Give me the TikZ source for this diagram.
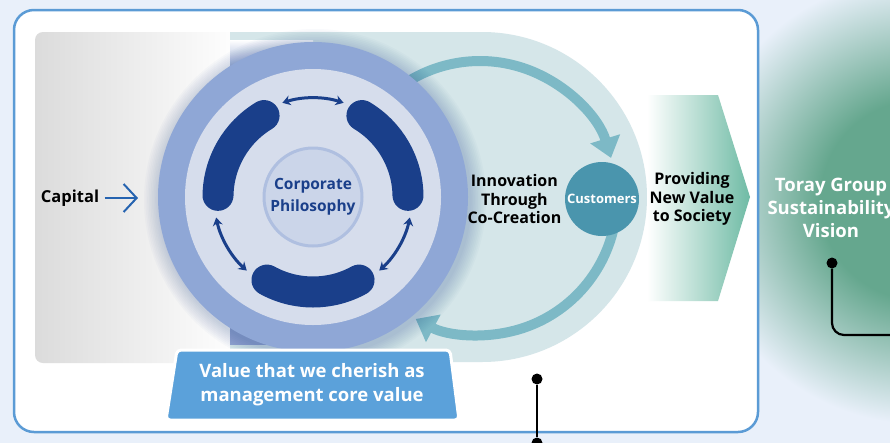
\documentclass[tikz,border=0pt]{standalone}
\usepackage{fontspec}
\setmainfont{Open Sans}
\usetikzlibrary{arrows.meta,positioning}

\definecolor{bgblue}{HTML}{E9F0FA}
\definecolor{framecol}{HTML}{5B9BD5}
\definecolor{ringblue}{HTML}{8FA7D6}
\definecolor{diskblue}{HTML}{D6DDEC}
\definecolor{navy}{HTML}{1A3F8A}
\definecolor{tealbg}{HTML}{D5E6E9}
\definecolor{tealarrow}{HTML}{7DB9C6}
\definecolor{custteal}{HTML}{4A95AD}
\definecolor{chevgreen}{HTML}{6FBBA5}
\definecolor{visgreen}{HTML}{65A78E}
\definecolor{valueblue}{HTML}{5BA1DA}
\definecolor{capblue}{HTML}{2563B0}
\definecolor{shadeblue}{HTML}{93A7D2}

\pgfdeclareradialshading{visfade}{\pgfpoint{0bp}{0bp}}{%
  color(0bp)=(visgreen); color(1.25bp)=(visgreen); color(1.95bp)=(visgreen!55!bgblue); color(2.8bp)=(bgblue); color(50bp)=(bgblue)}

\begin{document}
\begin{tikzpicture}[
  x = 1pt, y = -1pt,
  label text/.style = {font = \bfseries\fontsize{16}{18.5}\selectfont, align = center},
  blob/.style = {navy, line width = 31, line cap = round},
  swap arrow/.style = {navy, line width = 3, {Stealth[length=8pt,width=10pt]}-{Stealth[length=8pt,width=10pt]}},
  loop arrow/.style = {tealarrow, line width = 10, -{Triangle[length=20pt,width=30pt]}},
  dot/.style = {circle, fill = black, minimum size = 11, inner sep = 0},
  link/.style = {black, line width = 2.2},
  ]
  \clip (0,0) rectangle (890,442);
  \fill[bgblue] (0,0) rectangle (890,442);
  \fill[shading = visfade] (920,200) circle (2000);
  \draw[framecol, line width = 2.5, fill = white, rounded corners = 20] (14,10) rectangle (758,432);

  \shade[left color = black!14, middle color = black!4, right color = white, rounded corners = 8] (35,32) rectangle (240,363);
  \fill[tealbg] (230,32) -- (482,32) arc[start angle = -90, end angle = 90, radius = 165] -- (230,362) -- cycle;
  \shade[top color = white, bottom color = shadeblue] (230,40) rectangle (313,70);
  \fill[shadeblue] (230,70) rectangle (313,345);

  \coordinate (loop) at (480,198);
  \draw[loop arrow] (loop) ++(-130:137) arc[start angle = -130, end angle = -17, radius = 137];
  \draw[loop arrow] (loop) ++(14:137) arc[start angle = 14, end angle = 118, radius = 137];

  \foreach \i in {1,...,10}
    \fill[navy, opacity = 0.022] (315,200) circle (155 + \i*1.6);
  \node[circle, fill = ringblue, minimum size = 310, inner sep = 0] (bigring) at (313,197) {};
  \node[circle, fill = diskblue, minimum size = 256, inner sep = 0] (disk) at (bigring.center) {};

  \foreach \a in {90,210,330}
    \draw[blob] (disk.center) ++(\a-29:95) arc[start angle = \a-29, end angle = \a+29, radius = 95];
  \foreach \a in {30,150,270}
    \draw[swap arrow] (disk.center) ++(\a-18:99) arc[start angle = \a-18, end angle = \a+18, radius = 99];

  \node[circle, fill = diskblue!85!ringblue, draw = ringblue!55!diskblue, line width = 3,
        minimum size = 98, inner sep = 0, text = navy, label text, font = \bfseries\fontsize{15.5}{22}\selectfont]
        (philo) at (disk.center) {Corporate\\Philosophy};

  \node[label text, font = \bfseries\fontsize{16.5}{20}\selectfont] (capital) at (70,198) {Capital};
  \draw[capblue, line width = 2, -{Straight Barb[length=13pt,width=28pt,line width=2pt]}] (capital.east) ++(2,0) coordinate (capstart) -- (138,198);

  \node[circle, fill = custteal, minimum size = 74, inner sep = 0, text = white,
        font = \bfseries\fontsize{13}{15}\selectfont] (customers) at (602,199) {Customers};
  \node[label text, left = 0pt of customers] (innov) {Innovation\\Through\\Co-Creation};

  \shade[left color = white, right color = chevgreen] (647,95) -- (718,95) -- (750,197) -- (718,301) -- (647,301) -- cycle;
  \node[label text] (society) at (692,199) {Providing\\New Value\\to Society};

  \node[label text, text = white, font = \bfseries\fontsize{18.5}{23}\selectfont] (vision) at (831,208) {Toray Group\\Sustainability\\Vision};

  \filldraw[valueblue, draw = white, line width = 3, rounded corners = 4] (177,350) -- (450,350) -- (459,420) -- (166,420) -- cycle;
  \node[label text, text = white, font = \bfseries\fontsize{18.5}{24}\selectfont] (corevalue) at (312,385) {Value that we cherish as\\management core value};

  \node[dot] (visdot) at (832,263) {};
  \coordinate (visend) at (900,335);
  \draw[link, rounded corners = 12] (visdot) |- (visend);
  \node[dot] (coredot) at (537,379) {};
  \node[dot] (coreend) at (537,443) {};
  \draw[link] (coredot) -- (coreend);
\end{tikzpicture}
\end{document}
